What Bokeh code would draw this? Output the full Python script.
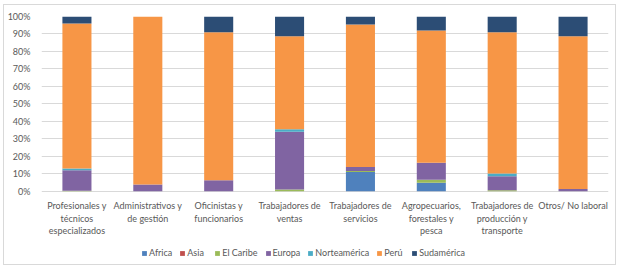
from bokeh.plotting import figure
from bokeh.models import Range1d, FixedTicker, PrintfTickFormatter, Legend, LegendItem, ColumnDataSource
from bokeh.core.properties import value
from bokeh.embed import file_html
from bokeh.resources import INLINE

categories = ["Profesionales y\ntécnicos\nespecializados", "Administrativos y\nde gestión",
              "Oficinistas y\nfuncionarios", "Trabajadores de\nventas", "Trabajadores de\nservicios",
              "Agropecuarios,\nforestales y\npesca", "Trabajadores de\nproducción y\ntransporte",
              "Otros/ No laboral"]
series = ["Africa", "Asia", "El Caribe", "Europa", "Norteamérica", "Perú", "Sudamérica"]
africa = [0, 0, 0, 0, 11.0, 4.8, 0, 0]
asia = [0, 0, 0, 0, 0, 0, 0, 0]
el_caribe = [0.3, 0, 0, 1.0, 0.5, 1.8, 0.5, 0]
europa = [11.7, 3.8, 6.3, 33.0, 2.4, 9.7, 8.1, 1.3]
norteamerica = [1.0, 0, 0, 1.4, 0, 0, 1.5, 0]
peru = [83.0, 96.2, 84.7, 53.3, 81.5, 75.7, 80.9, 87.4]
sudamerica = [4.0, 0, 9.0, 11.3, 4.6, 8.0, 9.0, 11.3]
colors = ["#4F81BD", "#C0504D", "#9BBB59", "#8064A2", "#4BACC6", "#F79646", "#2C4D75"]
y_ticks = list(range(0, 101, 10))

xs = list(range(len(categories)))
data = {"x": xs, "Africa": africa, "Asia": asia, "El Caribe": el_caribe,
        "Europa": europa, "Norteamérica": norteamerica, "Perú": peru, "Sudamérica": sudamerica}

FONT = "Lato"
GRAY = "#595959"
FS = "9px"

W, H = 613, 261
TOP, BOTTOM, LEFT, RIGHT = 11, 4, 32, 9
frame_h = H - TOP - BOTTOM
px_per_unit = 1.747
y_start = 100 - frame_h / px_per_unit

p = figure(width=W, height=H, output_backend="svg", toolbar_location=None,
           x_range=Range1d(-0.5, len(categories) - 0.5), y_range=Range1d(y_start, 100),
           min_border_left=LEFT, min_border_right=RIGHT, min_border_top=TOP, min_border_bottom=BOTTOM)
p.styles = {"border": "1px solid #D9D9D9", "margin-left": "3px", "margin-top": "4px"}
p.xaxis.visible = False

rs = p.vbar_stack(series, x="x", width=0.41, source=data, color=colors, line_width=0)

p.xgrid.visible = False
p.ygrid.grid_line_color = "#D9D9D9"
p.ygrid.ticker = FixedTicker(ticks=y_ticks)
p.outline_line_color = None

p.yaxis.ticker = FixedTicker(ticks=y_ticks)
p.yaxis.formatter = PrintfTickFormatter(format="%d%%")
p.yaxis.axis_line_color = None
p.yaxis.major_tick_line_color = None
p.yaxis.minor_tick_line_color = None
p.yaxis.major_label_text_font = FONT
p.yaxis.major_label_text_font_size = FS
p.yaxis.major_label_text_color = GRAY
p.yaxis.major_label_standoff = 5

# category labels under the bars
label_src = ColumnDataSource(dict(x=xs, y=[0] * len(xs), text=categories))
p.text(x="x", y="y", text="text", source=label_src, y_offset=9,
       text_font=value(FONT), text_font_size=FS, text_color=GRAY,
       text_align="center", text_baseline="top", text_line_height=1.15)

legend = Legend(items=[LegendItem(label=s, renderers=[r]) for s, r in zip(series, rs)],
                orientation="horizontal", location=(100, 4))
legend.label_text_font = FONT
legend.label_text_font_size = FS
legend.label_text_color = GRAY
legend.glyph_width = 6
legend.glyph_height = 6
legend.label_standoff = 2
legend.spacing = 7
legend.padding = 2
legend.margin = 0
legend.border_line_color = None
legend.background_fill_alpha = 0
p.add_layout(legend)

open("out.html", "w").write(file_html(p, INLINE))
